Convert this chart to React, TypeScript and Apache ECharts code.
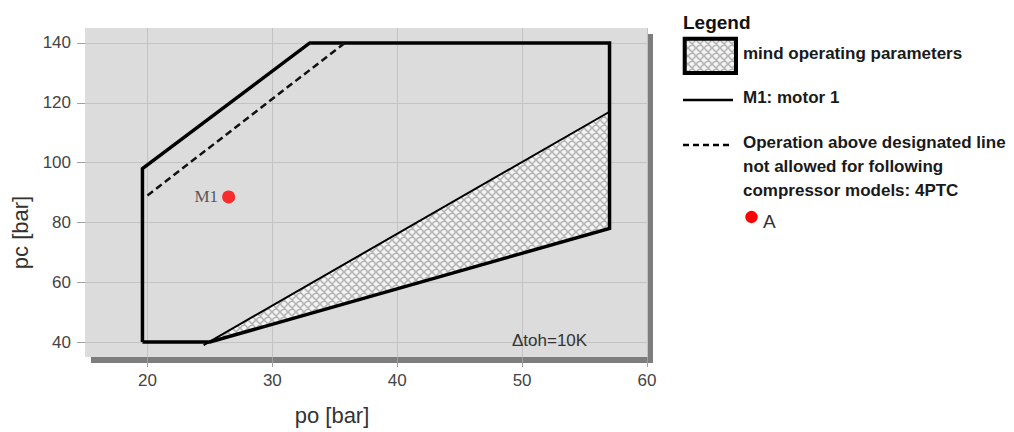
import React, { useEffect, useRef } from 'react';
import * as echarts from 'echarts';

// ---- data ----
const xTicks = [20, 30, 40, 50, 60];
const yTicks = [40, 60, 80, 100, 120, 140];

// application envelope (closed polygon, thick line)
const envelopePo = [19.6, 19.6, 33, 57, 57, 25, 19.6];
const envelopePc = [40, 98, 140, 140, 78, 40, 40];
// hatched region "mind operating parameters"
const hatchPo = [25, 57, 57];
const hatchPc = [40, 117, 78];
// upper edge of hatched region (thin line)
const hatchEdgePo = [24.5, 57];
const hatchEdgePc = [39, 117];
// dashed limit line for 4PTC
const limitPo = [20, 35.8];
const limitPc = [89, 140];
// operating point
const pointNames = ['M1'];
const pointPo = [26.5];
const pointPc = [88.5];

const xName = 'po [bar]';
const yName = 'pc [bar]';
const annotation = 'Δtoh=10K';
const legendTitle = 'Legend';
const legendHatch = 'mind operating parameters';
const legendSolid = 'M1: motor 1';
const legendDashed = ['Operation above designated line', 'not allowed for following', 'compressor models: 4PTC'];
const legendPoint = 'A';

const FONT = '"Liberation Sans", Arial, Helvetica, sans-serif';
const TILE = 8;

function makeHatch(): string {
  const c = document.createElement('canvas');
  c.width = TILE;
  c.height = TILE;
  const ctx = c.getContext('2d');
  if (!ctx) return '';
  ctx.fillStyle = '#f3f3f3';
  ctx.fillRect(0, 0, TILE, TILE);
  ctx.strokeStyle = '#b2b2b2';
  ctx.lineWidth = 1.5;
  ctx.beginPath();
  for (const k of [-TILE, 0, TILE]) {
    ctx.moveTo(k - 1, -1);
    ctx.lineTo(k + TILE + 1, TILE + 1);
    ctx.moveTo(k + TILE + 1, -1);
    ctx.lineTo(k - 1, TILE + 1);
  }
  ctx.stroke();
  return c.toDataURL();
}

export default function App() {
  const ref = useRef<HTMLDivElement>(null);

  useEffect(() => {
    if (!ref.current) return;
    const chart = echarts.init(ref.current, null, { renderer: 'svg' });
    const img = makeHatch();
    const hatchFill: any = { image: img, repeat: 'repeat', imageWidth: TILE, imageHeight: TILE };

    const legendText = (text: string, y: number) => ({
      type: 'text',
      x: 743,
      y,
      style: { text, fontSize: 17, fontWeight: 'bold', fontFamily: FONT, fill: '#1a1a1a', align: 'left', verticalAlign: 'middle' },
    });

    const option: any = {
      animation: false,
      backgroundColor: '#ffffff',
      grid: {
        left: 85,
        top: 28,
        width: 562,
        height: 329,
        show: true,
        backgroundColor: '#dcdcdc',
        borderWidth: 0,
        shadowColor: '#7d7d7d',
        shadowBlur: 0.5,
        shadowOffsetX: 6,
        shadowOffsetY: 6,
        containLabel: false,
        outerBoundsMode: 'none',
      },
      xAxis: {
        type: 'value',
        min: 15,
        max: 60,
        interval: 5,
        name: xName,
        nameLocation: 'middle',
        nameGap: 47,
        nameTextStyle: { fontSize: 22, color: '#333', fontFamily: FONT, padding: [0, 68, 0, 0] },
        axisLine: { show: false },
        axisTick: { show: true, length: 10, customValues: xTicks, lineStyle: { color: '#a0a0a0' } },
        axisLabel: { customValues: xTicks, fontSize: 17, color: '#444', fontFamily: FONT, margin: 15 },
        splitLine: { show: false },
      },
      yAxis: {
        type: 'value',
        min: 35,
        max: 145,
        interval: 5,
        name: yName,
        nameLocation: 'middle',
        nameGap: 51,
        nameTextStyle: { fontSize: 22, color: '#333', fontFamily: FONT, padding: [0, 80, 0, 0] },
        axisLine: { show: false },
        axisTick: { show: true, length: 8, customValues: yTicks, lineStyle: { color: '#a0a0a0' } },
        axisLabel: { customValues: yTicks, fontSize: 17, color: '#444', fontFamily: FONT, margin: 14 },
        splitLine: { show: false },
      },
      series: [
        {
          type: 'custom',
          name: legendHatch,
          data: hatchPo.map((po, i) => [po, hatchPc[i]]),
          renderItem: (params: any, api: any) => {
            if (params.dataIndex !== 0) return null;
            const pts = hatchPo.map((po, i) => api.coord([po, hatchPc[i]]));
            return {
              type: 'polygon',
              shape: { points: pts },
              style: { fill: hatchFill, stroke: 'none' },
            };
          },
          markLine: {
            silent: true,
            z: 1,
            symbol: ['none', 'none'],
            label: { show: false },
            lineStyle: { color: '#c3c3c3', width: 1, type: 'solid' },
            data: [
              ...xTicks.map((v) => ({ xAxis: v })),
              ...yTicks.map((v) => ({ yAxis: v })),
            ],
          },
          z: 2,
        },
        {
          type: 'line',
          name: 'hatch edge',
          data: hatchEdgePo.map((po, i) => [po, hatchEdgePc[i]]),
          symbol: 'none',
          lineStyle: { color: '#000', width: 2 },
          z: 3,
        },
        {
          type: 'line',
          name: legendSolid,
          data: envelopePo.map((po, i) => [po, envelopePc[i]]),
          symbol: 'none',
          lineStyle: { color: '#000', width: 3.5, join: 'miter' },
          z: 4,
        },
        {
          type: 'line',
          name: 'limit 4PTC',
          data: limitPo.map((po, i) => [po, limitPc[i]]),
          symbol: 'none',
          lineStyle: { color: '#111', width: 2.5, type: [7, 4] },
          z: 4,
        },
        {
          type: 'scatter',
          name: legendPoint,
          data: pointPo.map((po, i) => ({ value: [po, pointPc[i]], name: pointNames[i] })),
          symbol: 'circle',
          symbolSize: 13,
          itemStyle: { color: '#ff0000' },
          label: {
            show: true,
            position: 'left',
            distance: 4,
            formatter: (p: any) => p.name,
            fontFamily: '"Liberation Serif", "Times New Roman", serif',
            fontSize: 17,
            color: '#333',
          },
          z: 5,
        },
      ],
      graphic: [
        {
          type: 'text',
          x: 512,
          y: 340,
          style: { text: annotation, fontSize: 17, fontFamily: FONT, fill: '#333', align: 'left', verticalAlign: 'middle' },
          z: 10,
        },
        {
          type: 'text',
          x: 683,
          y: 22,
          style: { text: legendTitle, fontSize: 19, fontWeight: 'bold', fontFamily: FONT, fill: '#111', align: 'left', verticalAlign: 'middle' },
        },
        {
          type: 'rect',
          shape: { x: 684.7, y: 38.7, width: 51.3, height: 34.3 },
          style: { fill: hatchFill, stroke: '#000', lineWidth: 4 },
        },
        legendText(legendHatch, 53),
        {
          type: 'line',
          shape: { x1: 683, y1: 100, x2: 733, y2: 100 },
          style: { stroke: '#000', lineWidth: 2.5 },
        },
        legendText(legendSolid, 97),
        {
          type: 'line',
          shape: { x1: 683, y1: 145, x2: 733, y2: 145 },
          style: { stroke: '#000', lineWidth: 2.5, lineDash: [6, 4] },
        },
        ...legendDashed.map((t, i) => legendText(t, 142 + i * 24)),
        {
          type: 'circle',
          shape: { cx: 751.5, cy: 217, r: 6.2 },
          style: { fill: '#ff0000' },
        },
        {
          type: 'text',
          x: 763,
          y: 221,
          style: { text: legendPoint, fontSize: 19, fontFamily: FONT, fill: '#333', align: 'left', verticalAlign: 'middle' },
        },
      ],
    };

    chart.setOption(option);
    return () => chart.dispose();
  }, []);

  return (
    <div
      ref={ref}
      style={{ position: 'absolute', left: 0, top: 0, width: 1014, height: 432, background: '#fff' }}
    />
  );
}
